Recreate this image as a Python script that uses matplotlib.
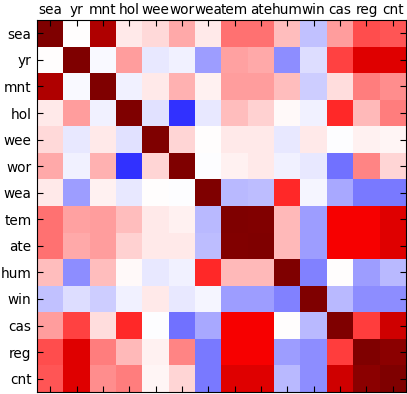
import numpy as np
import matplotlib
matplotlib.use("Agg")
import matplotlib.pyplot as plt

# short names of the columns, same order on both axes
labels = ["sea", "yr", "mnt", "hol", "wee", "wor", "wea",
          "tem", "ate", "hum", "win", "cas", "reg", "cnt"]

# correlation rows
sea = [1.00, 0.00, 0.81, 0.045, 0.075, 0.17, 0.045, 0.28, 0.28, 0.125, -0.125, 0.195, 0.345, 0.33]
yr = [0.00, 1.00, -0.01, 0.19, -0.04, -0.025, -0.19, 0.18, 0.17, -0.22, -0.07, 0.37, 0.62, 0.62]
mnt = [0.81, -0.01, 1.00, -0.025, 0.04, 0.155, 0.03, 0.195, 0.19, 0.13, -0.10, 0.07, 0.25, 0.22]
hol = [0.045, 0.19, -0.025, 1.00, -0.06, -0.40, -0.04, 0.125, 0.09, 0.015, -0.025, 0.42, 0.14, 0.25]
wee = [0.075, -0.04, 0.04, -0.06, 1.00, 0.08, 0.005, 0.045, 0.045, -0.04, 0.045, -0.005, 0.03, 0.02]
wor = [0.17, -0.025, 0.155, -0.40, 0.08, 1.00, -0.005, 0.03, 0.045, -0.03, -0.045, -0.28, 0.235, 0.08]
wea = [0.045, -0.19, 0.03, -0.04, 0.005, -0.005, 1.00, -0.14, -0.13, 0.42, -0.02, -0.17, -0.265, -0.265]
tem = [0.28, 0.18, 0.195, 0.125, 0.045, 0.03, -0.14, 1.00, 0.99, 0.14, -0.195, 0.53, 0.53, 0.62]
ate = [0.28, 0.17, 0.19, 0.09, 0.045, 0.045, -0.13, 0.99, 1.00, 0.14, -0.195, 0.53, 0.53, 0.62]
hum = [0.125, -0.22, 0.13, 0.015, -0.04, -0.03, 0.42, 0.14, 0.14, 1.00, -0.25, 0.005, -0.19, -0.14]
win = [-0.125, -0.07, -0.10, -0.025, 0.045, -0.045, -0.02, -0.195, -0.195, -0.25, 1.00, -0.14, -0.22, -0.22]
cas = [0.195, 0.37, 0.07, 0.42, -0.005, -0.28, -0.17, 0.53, 0.53, 0.005, -0.14, 1.00, 0.375, 0.685]
reg = [0.345, 0.62, 0.25, 0.14, 0.03, 0.235, -0.265, 0.53, 0.53, -0.19, -0.22, 0.375, 1.00, 0.95]
cnt = [0.33, 0.62, 0.22, 0.25, 0.02, 0.08, -0.265, 0.62, 0.62, -0.14, -0.22, 0.685, 0.95, 1.00]

corr = np.array([sea, yr, mnt, hol, wee, wor, wea, tem, ate, hum, win, cas, reg, cnt])

fig = plt.figure(figsize=(4.07, 3.94), dpi=100)
ax = fig.add_axes([37 / 407, 2 / 394, 369 / 407, 372 / 394])

ax.imshow(corr, cmap="seismic", vmin=-1, vmax=1, interpolation="nearest", aspect="auto")

ax.set_xticks(range(len(labels)))
ax.set_yticks(range(len(labels)))
ax.set_xticklabels(labels)
ax.set_yticklabels(labels)
ax.tick_params(direction="in", top=True, bottom=True, left=True, right=True,
               labeltop=True, labelbottom=False, length=4.5, width=0.8,
               labelsize=9.8)
ax.tick_params(axis="x", pad=2.5)
ax.tick_params(axis="y", pad=4)

fig.savefig("out.png", dpi=100)
